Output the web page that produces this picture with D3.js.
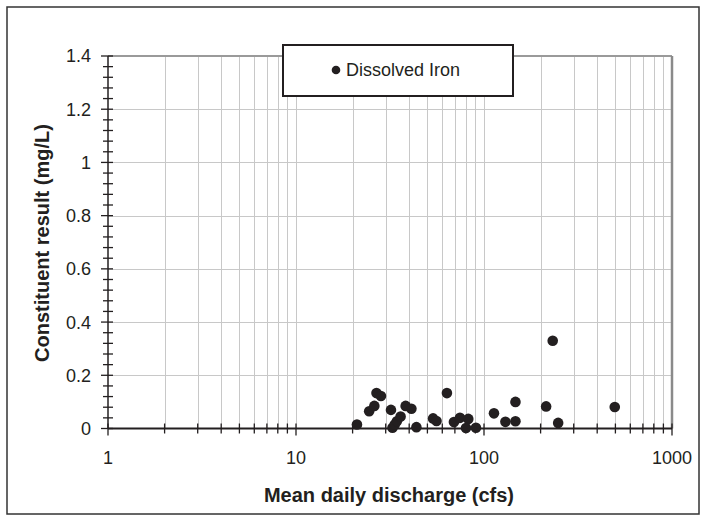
<!DOCTYPE html>
<html>
<head>
<meta charset="utf-8">
<script src="https://cdn.jsdelivr.net/npm/d3@7"></script>
<style>
  html, body { margin: 0; padding: 0; background: #fff; }
  svg { display: block; }
  text { font-family: "Liberation Sans", Arial, sans-serif; fill: #231f20; }
</style>
</head>
<body>
<svg id="chart" width="708" height="523"></svg>
<script>
// ---- data ----
const discharge = [21.1, 24.5, 26.1, 26.8, 28.3, 32.0, 32.6, 33.5, 34.4, 36.0, 38.3, 41.1, 43.7,
                   53.6, 55.9, 63.5, 69.2, 74.5, 82.5, 80.2, 90.6, 113, 130, 147, 147, 214, 232, 248, 496];
const iron      = [0.015, 0.065, 0.085, 0.133, 0.122, 0.070, 0.003, 0.015, 0.027, 0.045, 0.085, 0.074, 0.005,
                   0.038, 0.028, 0.133, 0.024, 0.040, 0.036, 0.002, 0.003, 0.057, 0.025, 0.027, 0.100, 0.083, 0.330, 0.021, 0.081];
const xTickLabels = [1, 10, 100, 1000];
const yTickLabels = [0, 0.2, 0.4, 0.6, 0.8, 1, 1.2, 1.4];
const seriesName = "Dissolved Iron";
const xTitle = "Mean daily discharge (cfs)";
const yTitle = "Constituent result (mg/L)";

// ---- layout ----
const svg = d3.select("#chart");
const L = 108, R = 672, T = 56, B = 428.5;
const x = d3.scaleLog().domain([1, 1000]).range([L, R]);
const y = d3.scaleLinear().domain([0, 1.4]).range([B, T]);
const ink = "#231f20";

// outer frame
svg.append("rect").attr("x", 7).attr("y", 7).attr("width", 692).attr("height", 507)
  .attr("fill", "#fff").attr("stroke", "#333").attr("stroke-width", 1.5);

// minor x values
const xMinor = [];
for (let k = 0; k < 3; k++) for (let m = 1; m <= 9; m++) xMinor.push(m * Math.pow(10, k));
xMinor.push(1000);

// grid
const grid = svg.append("g").attr("stroke", "#c8c8c8").attr("stroke-width", 1);
grid.selectAll("line.v").data(xMinor.filter(v => v > 1 && v < 1000)).join("line")
  .attr("x1", d => Math.round(x(d)) + 0.5).attr("x2", d => Math.round(x(d)) + 0.5)
  .attr("y1", T).attr("y2", B);
grid.selectAll("line.h").data(yTickLabels.filter(v => v > 0)).join("line")
  .attr("x1", L).attr("x2", R)
  .attr("y1", d => Math.round(y(d)) + 0.5).attr("y2", d => Math.round(y(d)) + 0.5);

// plot border top/right (gray)
svg.append("line").attr("x1", L).attr("x2", R).attr("y1", T).attr("y2", T)
  .attr("stroke", "#9a9a9a").attr("stroke-width", 2);
svg.append("line").attr("x1", R).attr("x2", R).attr("y1", T).attr("y2", B)
  .attr("stroke", "#8a8a8a").attr("stroke-width", 2.5);

// x axis
const xAxisG = svg.append("g");
xAxisG.append("line").attr("x1", L).attr("x2", R).attr("y1", B).attr("y2", B)
  .attr("stroke", ink).attr("stroke-width", 2);
xAxisG.selectAll("line.t").data(xMinor).join("line")
  .attr("x1", d => x(d)).attr("x2", d => x(d))
  .attr("y1", B - 5).attr("y2", d => xTickLabels.includes(d) ? B + 7 : B + 5)
  .attr("stroke", ink).attr("stroke-width", 1.3);
xAxisG.selectAll("text").data(xTickLabels).join("text")
  .attr("x", d => x(d)).attr("y", 463.5)
  .attr("text-anchor", "middle").attr("font-size", 18)
  .text(d => d);

// y axis
const yMinor = d3.range(0, 36).map(i => +(i * 0.04).toFixed(2));
const yAxisG = svg.append("g");
yAxisG.append("line").attr("x1", L).attr("x2", L).attr("y1", T).attr("y2", B)
  .attr("stroke", ink).attr("stroke-width", 1.5);
yAxisG.selectAll("line.t").data(yMinor).join("line")
  .attr("x1", d => yTickLabels.some(v => Math.abs(v - d) < 1e-6) ? L - 7 : L - 5).attr("x2", L + 5)
  .attr("y1", d => y(d)).attr("y2", d => y(d))
  .attr("stroke", ink).attr("stroke-width", 1.3);
yAxisG.selectAll("text").data(yTickLabels).join("text")
  .attr("x", 91).attr("y", d => y(d)).attr("dy", "0.36em")
  .attr("text-anchor", "end").attr("font-size", 18)
  .text(d => d);

// titles
svg.append("text").attr("x", 389).attr("y", 502)
  .attr("text-anchor", "middle").attr("font-size", 20).attr("font-weight", "bold")
  .text(xTitle);
svg.append("text").attr("transform", "translate(49,243) rotate(-90)")
  .attr("text-anchor", "middle").attr("font-size", 20).attr("font-weight", "bold")
  .text(yTitle);

// points
svg.append("g").selectAll("circle").data(discharge.map((d, i) => [d, iron[i]])).join("circle")
  .attr("cx", d => x(d[0])).attr("cy", d => y(d[1])).attr("r", 5.3)
  .attr("fill", ink);

// legend
const lg = svg.append("g");
lg.append("rect").attr("x", 283).attr("y", 45).attr("width", 230).attr("height", 51)
  .attr("fill", "#fff").attr("stroke", ink).attr("stroke-width", 2);
lg.append("circle").attr("cx", 336).attr("cy", 70).attr("r", 4.3).attr("fill", ink);
lg.append("text").attr("x", 346).attr("y", 70).attr("dy", "0.36em")
  .attr("font-size", 18).text(seriesName);
</script>
</body>
</html>
